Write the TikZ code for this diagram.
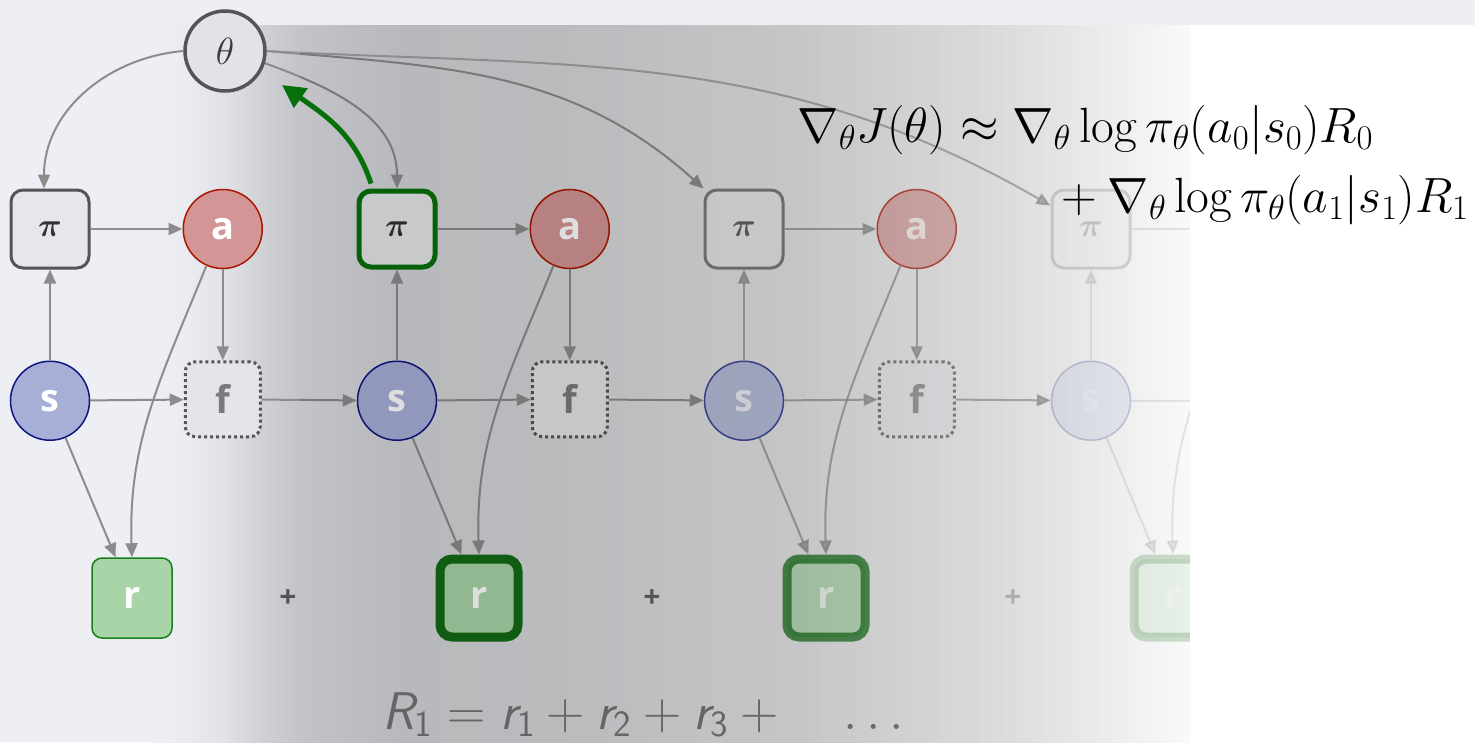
\RequirePackage{fix-cm}
\documentclass[tikz,border=0pt]{standalone}
\usepackage{amsmath}
\usepackage{fontspec}
\newfontfamily\letterfam{Open Sans}
\usetikzlibrary{arrows.meta, positioning}

\definecolor{bgcol}{HTML}{EDEFF4}
\definecolor{edgecol}{HTML}{8C8C8C}
\definecolor{boxline}{HTML}{555555}
\definecolor{boxfill}{HTML}{E6E7EA}
\definecolor{thetafill}{HTML}{E2E3E6}
\definecolor{thetatext}{HTML}{3A3A3A}
\definecolor{pitext}{HTML}{333333}
\definecolor{actfill}{HTML}{D39595}
\definecolor{actline}{HTML}{A81800}
\definecolor{stfill}{HTML}{A7AFD7}
\definecolor{stline}{HTML}{0E1780}
\definecolor{ffill}{HTML}{E4E5E8}
\definecolor{ftext}{HTML}{7A7A7A}
\definecolor{rwfill}{HTML}{A8D4A8}
\definecolor{rwline}{HTML}{136A16}
\definecolor{rwedge}{HTML}{1A7F1A}
\definecolor{polgreen}{HTML}{08700A}
\definecolor{pluscol}{HTML}{555555}
\definecolor{sumcol}{HTML}{757575}
% backdrop colours
\definecolor{rampB}{RGB}{234,236,241}
\definecolor{rampC}{RGB}{225,226,231}
\definecolor{rampD}{RGB}{207,208,212}
\definecolor{rampE}{RGB}{195,196,200}
\definecolor{backA}{RGB}{224,225,230}
\definecolor{backB}{RGB}{212,213,217}
\definecolor{backC}{RGB}{214,215,218}
\definecolor{backD}{RGB}{228,228,229}
\definecolor{backE}{RGB}{233,233,233}
\definecolor{backF}{RGB}{249,249,249}

\pgfdeclarehorizontalshading{rampleft}{100bp}{color(0bp)=(bgcol); color(25bp)=(bgcol);
  color(37bp)=(rampB); color(50bp)=(rampC); color(63bp)=(rampD); color(75bp)=(rampE);
  color(100bp)=(rampE)}
\pgfdeclarehorizontalshading{backright}{100bp}{color(0bp)=(backA); color(25bp)=(backA);
  color(30.6bp)=(backB); color(39.6bp)=(backC); color(53.1bp)=(backD); color(64.3bp)=(backE);
  color(75bp)=(backF); color(100bp)=(backF)}
\pgfdeclarehorizontalshading{veil}{100bp}{color(0bp)=(black); color(53.1bp)=(black);
  color(75bp)=(white); color(100bp)=(white)}

\pgfdeclarelayer{back}
\pgfdeclarelayer{veil}
\pgfdeclarelayer{front}
\pgfsetlayers{back,main,veil,front}

\newcommand{\letterfont}{\letterfam\bfseries\fontsize{38}{38}\selectfont}
\newcommand{\sv}[2]{\textsf{\itshape #1}_{\textsf{#2}}}

\begin{document}
\begin{tikzpicture}[
    x=1pt, y=1pt,
    node distance=91pt and 92pt,
    pibox/.style={draw=boxline, line width=3pt, rounded corners=12pt, fill=boxfill,
                  minimum size=78pt, inner sep=0pt, text=pitext,
                  font=\boldmath\fontsize{33}{33}\selectfont},
    pigreen/.style={pibox, draw=polgreen, line width=5pt, minimum size=76pt},
    thetanode/.style={circle, draw=boxline, line width=3.5pt, fill=thetafill, minimum size=80pt,
                  inner sep=0pt, text=thetatext, font=\fontsize{38}{38}\selectfont},
    act/.style={circle, draw=actline, line width=1.5pt, fill=actfill, minimum size=79pt,
                inner sep=0pt, text=white, font=\letterfont},
    st/.style={act, draw=stline, fill=stfill},
    fbox/.style={draw=boxline, line width=3pt, dash pattern=on 3pt off 3pt, rounded corners=10pt,
                 fill=ffill, minimum size=75pt, inner sep=0pt, text=ftext, font=\letterfont},
    rwthick/.style={draw=rwline, line width=9pt, rounded corners=12pt, fill=rwfill,
                    minimum size=78pt, inner sep=0pt, text=white, font=\letterfont},
    rwthin/.style={rwthick, draw=rwedge, line width=1.5pt, minimum size=80pt, rounded corners=10pt},
    plus/.style={text=pluscol, font=\letterfam\bfseries\fontsize{30}{30}\selectfont},
    ar/.style={-{Triangle[length=14pt,width=12pt]}, line width=2pt, draw=edgecol},
    gr/.style={-{Triangle[length=23pt,width=23pt]}, line width=5pt, draw=polgreen}
]
\useasboundingbox (0,0) rectangle (1475,-742);
\begin{pgfonlayer}{back}
  \fill[bgcol] (0,0) rectangle (1475,-742);
  \shade[shading=rampleft] (150,-25) rectangle (300,-742);
  \shade[shading=backright] (300,-25) rectangle (1190,-742);
\end{pgfonlayer}
\begin{pgfonlayer}{front}
  \node[thetanode] (theta) at (225,-51) {$\theta$};
\end{pgfonlayer}

% one column per time step
\foreach \i/\op/\pisty/\rsty in {1/1/pibox/rwthin, 2/1/pigreen/rwthick, 3/0.73/pibox/rwthick}{
  \begin{scope}[opacity=\op]
    \node[\pisty] (pi\i) at ({50+347*(\i-1)},-229) {$\pi$};
    \node[act, right=of pi\i] (a\i) {a};
    \node[st, below=of pi\i] (s\i) {s};
    \node[fbox, below=of a\i] (f\i) {f};
    \node[\rsty] (r\i) at ({132+347*(\i-1)},-598) {r};
    \draw[ar] (pi\i) -- (a\i);
    \draw[ar] (s\i) -- (pi\i);
    \draw[ar] (a\i) -- (f\i);
    \draw[ar] (s\i) -- (f\i);
    \draw[ar] (s\i) -- (r\i.112);
    \draw[ar] (a\i.246) to[out=-112, in=92] (r\i.north);
  \end{scope}
}
% last step runs off the slide
\begin{scope}[opacity=0.23]
  \node[pibox] (pi4) at (1091,-229) {$\pi$};
  \node[st, below=of pi4] (s4) {s};
  \node[rwthick] (r4) at (1173,-598) {r};
  \coordinate (a4) at (1264,-229);
  \coordinate (f4) at (1264,-401);
  \draw[ar] (pi4) -- (a4);
  \draw[ar] (s4) -- (pi4);
  \draw[ar] (s4) -- (f4);
  \draw[ar] (s4) -- (r4.112);
  \draw[ar] ([shift={(-18,-39)}]a4) to[out=-112, in=92] (r4.north);
\end{scope}
\foreach \p/\q/\op in {f1/s2/1, f2/s3/1, f3/s4/0.73}
   \draw[ar, opacity=\op] (\p) -- (\q);

% parameters feed every policy
\draw[ar] (theta.west) to[out=185, in=90] ([xshift=-6pt]pi1.north);
\draw[ar] (theta.-17) to[out=-20, in=90] (pi2.north);
\draw[ar] (theta.east) to[out=-5, in=138] (pi3.north west);
\draw[ar, opacity=0.7] (theta.east) to[out=-3, in=150] (pi4.150);

\foreach \x/\op [count=\k] in {288/1, 652/0.9, 1013/0.35}
   \node[plus, opacity=\op] (plus\k) at (\x,-599) {+};
\node[anchor=base west, text=sumcol, font=\fontsize{53}{53}\selectfont] (ret) at (379,-729)
   {$\sv{R}{1} = \sv{r}{1} + \sv{r}{2} + \sv{r}{3} + \quad \ldots$};

\begin{pgfonlayer}{veil}
  \shade[shading=veil, fill opacity=0.13] (300,-25) rectangle (1190,-742);
  \fill[white] (1190,-25) rectangle (1475,-742);
\end{pgfonlayer}
\begin{pgfonlayer}{front}
  \draw[gr] ([xshift=-26pt,yshift=5pt]pi2.north) to[out=108, in=-35] ([shift={(57,-34)}]theta.center);
  \node[anchor=base west, font=\fontsize{49.5}{49.5}\selectfont] (grad1) at (794,-142)
     {$\nabla_\theta J(\theta) \approx \nabla_\theta \log \pi_\theta(a_0|s_0)R_0$};
  \node[anchor=base east, font=\fontsize{49.5}{49.5}\selectfont] (grad2) at (1472,-212)
     {${}+ \nabla_\theta \log \pi_\theta(a_1|s_1)R_1$};
\end{pgfonlayer}
\end{tikzpicture}
\end{document}
